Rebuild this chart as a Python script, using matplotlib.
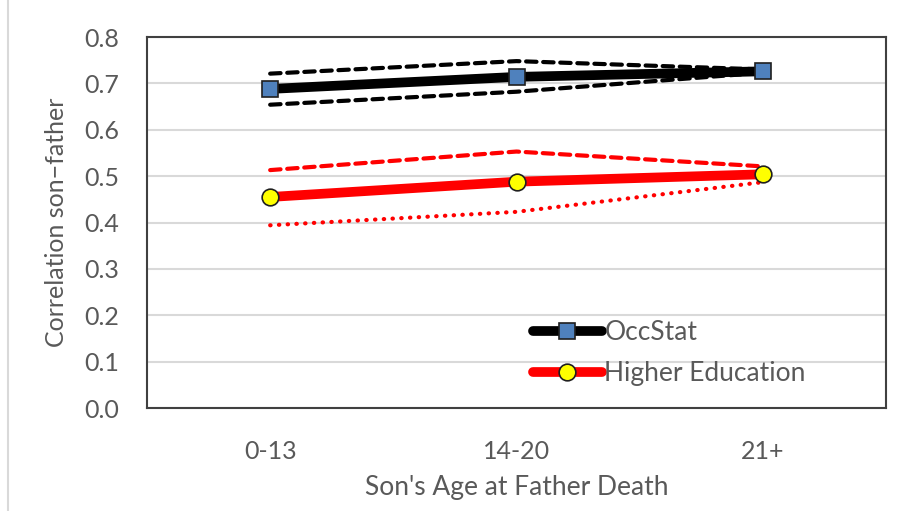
import matplotlib
matplotlib.use("Agg")
import matplotlib.pyplot as plt
from matplotlib.lines import Line2D

categories = ["0-13", "14-20", "21+"]
occ = [0.688, 0.714, 0.726]
occ_hi = [0.721, 0.748, 0.730]
occ_lo = [0.654, 0.682, 0.723]
edu = [0.455, 0.488, 0.504]
edu_hi = [0.513, 0.553, 0.521]
edu_lo = [0.394, 0.423, 0.487]
yticks = [0.0, 0.1, 0.2, 0.3, 0.4, 0.5, 0.6, 0.7, 0.8]

plt.rcParams['font.family'] = ['Lato', 'DejaVu Sans']
txt = '#595959'

fig = plt.figure(figsize=(9.01, 5.11), dpi=100)
ax = fig.add_axes([147/901, 1-408/511, (886-147)/901, (408-37)/511])
x = list(range(len(categories)))

ax.plot(x, occ_hi, color='black', lw=3, ls=(0, (2.5, 1.6)), dash_capstyle='round', zorder=3)
ax.plot(x, occ_lo, color='black', lw=3, ls=(0, (2.5, 1.6)), dash_capstyle='round', zorder=3)
ax.plot(x, edu_hi, color='red', lw=3, ls=(0, (2.5, 1.6)), dash_capstyle='round', zorder=3)
ax.plot(x, edu_lo, color='red', lw=3, ls=(0, (0.1, 2.0)), dash_capstyle='round', zorder=3)
ax.plot(x, occ, color='black', lw=7, marker='s', ms=11, mfc='#4f81bd', mec='#1f1f1f', mew=1.2,
        solid_capstyle='round', zorder=4, label='OccStat')
ax.plot(x, edu, color='red', lw=7, marker='o', ms=12, mfc='#ffff00', mec='#1f1f1f', mew=1.2,
        solid_capstyle='round', zorder=4, label='Higher Education')

ax.set_xlim(-0.5, 2.5)
ax.set_ylim(0, 0.8)
ax.set_yticks(yticks)
ax.set_yticklabels([f"{v:.1f}" for v in yticks])
ax.set_xticks(x)
ax.set_xticklabels(categories)
ax.tick_params(length=0, labelsize=18, colors=txt)
ax.tick_params(axis='y', pad=20)
ax.tick_params(axis='x', pad=23)
ax.grid(axis='y', color='#d9d9d9', lw=1.5)
ax.set_axisbelow(True)
for s in ax.spines.values():
    s.set_color('#404040')
    s.set_linewidth(1.5)

ax.set_ylabel("Correlation son\u2212father", fontsize=18, color=txt, labelpad=12)
ax.set_xlabel("Son's Age at Father Death", fontsize=19, color=txt, labelpad=9)

leg = ax.legend(loc='upper left', bbox_to_anchor=(386/739, 1-(320-37)/371), frameon=False, fontsize=19,
                handlelength=2.6, handletextpad=0.1, labelspacing=0.6, labelcolor=txt,
                borderaxespad=0, borderpad=0)

fig.add_artist(Line2D([8/901, 8/901], [0, 1], color='#d9d9d9', lw=1.5))
fig.savefig("out.png", dpi=100, facecolor='white')
